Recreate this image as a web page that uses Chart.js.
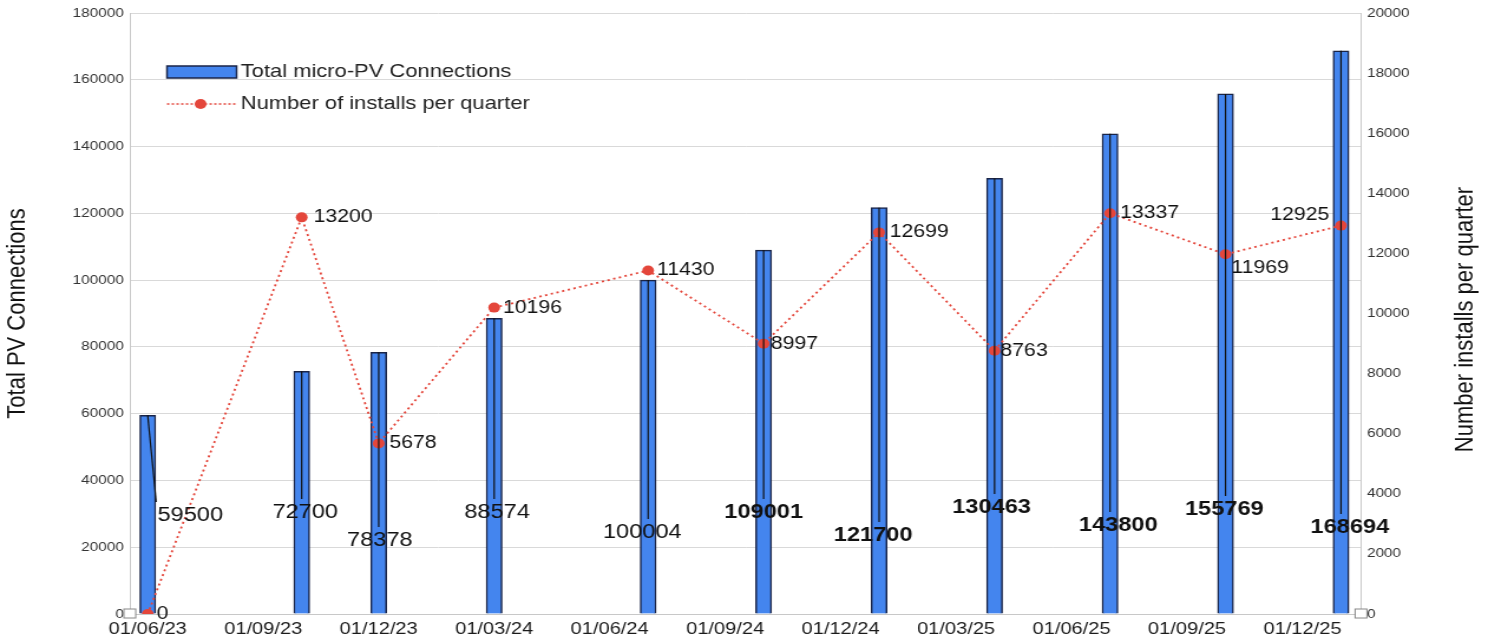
<!DOCTYPE html>
<html>
<head>
<meta charset="utf-8">
<script src="https://cdn.jsdelivr.net/npm/chart.js@4.4.1/dist/chart.umd.min.js"></script>
<style>
  html, body { margin: 0; padding: 0; background: #fff; overflow: hidden; }
  /* text in this chart is drawn slightly wide, so the canvas is stretched sideways */
  #wrap { width: 1264px; height: 639px; transform: scaleX(1.18); transform-origin: 0 0; }
</style>
</head>
<body>
<div id="wrap"><canvas id="grafico" width="1264" height="639"></canvas></div>
<script>
// connection dates (dd/mm/yy)
var datas = ['01/06/23', '01/10/23', '01/12/23', '01/03/24', '01/07/24', '01/10/24',
             '01/01/25', '01/04/25', '01/07/25', '01/10/25', '01/01/26'];

// total micro-PV connections
var totalConexoes = [59500, 72700, 78378, 88574, 100004, 109001, 121700, 130463, 143800, 155769, 168694];

// installs in the quarter
var instalacoes = [0, 13200, 5678, 10196, 11430, 8997, 12699, 8763, 13337, 11969, 12925];

// x axis labels
var rotulosX = ['01/06/23', '01/09/23', '01/12/23', '01/03/24', '01/06/24', '01/09/24',
                '01/12/24', '01/03/25', '01/06/25', '01/09/25', '01/12/25'];

var serieBarras = 'Total micro-PV Connections';
var serieLinha = 'Number of installs per quarter';
var tituloDireita = 'Number installs per quarter';

// months since June 2023
function mesIndex(d) {
    var p = d.split('/');
    return (parseInt(p[2], 10) - 23) * 12 + (parseInt(p[1], 10) - 6);
}

var pontosBarras = datas.map(function(d, i) { return { x: mesIndex(d), y: totalConexoes[i] }; });
var pontosLinha = datas.map(function(d, i) { return { x: mesIndex(d), y: instalacoes[i] }; });

var fonte = '"Liberation Sans", Arial, sans-serif';
var azul = '#4485ee';
var azulBorda = '#1a2548';
var vermelho = '#e4463b';

// where the bar value labels sit: [dx, height above axis, bold]
var posBarras = [[36, 99, 0], [3, 102, 0], [1, 74, 0], [2.5, 102, 0], [-5, 82, 0], [0, 102, 1],
                 [-5, 79, 1], [-2.5, 107, 1], [7, 89, 1], [-1, 105, 1], [7.5, 87, 1]];
// line value labels: [dx, dy, align]
var posLinha = [[7.5, 0, 'left'], [10, 0, 'left'], [9, 0, 'left'], [7.5, 0, 'left'], [7.5, 0, 'left'],
                [6, 0, 'left'], [9, 0, 'left'], [5, 0, 'left'], [8.5, 0, 'left'], [5, 14, 'left'], [-10, -11, 'right']];

var rotulos = {
    id: 'rotulos',
    afterDatasetsDraw: function(chart) {
        var ctx = chart.ctx;
        var base = chart.scales.y.getPixelForValue(0);
        var metaBar = chart.getDatasetMeta(1);
        var metaLin = chart.getDatasetMeta(0);
        ctx.save();

        // bar values with leader lines
        metaBar.data.forEach(function(bar, i) {
            var p = posBarras[i];
            var texto = String(totalConexoes[i]);
            ctx.font = (p[2] ? 'bold ' : '') + '20px ' + fonte;
            var w = ctx.measureText(texto).width;
            var cx = bar.x + p[0];
            var cy = base - p[1];
            var fimX = Math.abs(p[0]) > 10 ? cx - w / 2 - 1 : bar.x;
            ctx.strokeStyle = '#111';
            ctx.lineWidth = 1.2;
            ctx.beginPath();
            ctx.moveTo(bar.x, bar.y);
            ctx.lineTo(fimX, cy - 13);
            ctx.stroke();
            ctx.fillStyle = '#111';
            ctx.textAlign = 'center';
            ctx.textBaseline = 'middle';
            ctx.fillText(texto, cx, cy);
        });

        // installs per quarter values
        ctx.font = '18px ' + fonte;
        ctx.textBaseline = 'middle';
        metaLin.data.forEach(function(pt, i) {
            var p = posLinha[i];
            ctx.textAlign = p[2];
            ctx.fillStyle = '#111';
            ctx.fillText(String(instalacoes[i]), pt.x + p[0], pt.y + p[1]);
        });

        // little markers at the foot of both y axes
        var area = chart.chartArea;
        ctx.fillStyle = '#fff';
        ctx.strokeStyle = '#888';
        ctx.lineWidth = 1;
        [area.left, area.right].forEach(function(x) {
            ctx.fillRect(x - 5, base - 5, 10, 9);
            ctx.strokeRect(x - 5, base - 5, 10, 9);
        });
        ctx.restore();
    },
    afterDraw: function(chart) {
        var ctx = chart.ctx;
        var area = chart.chartArea;
        ctx.save();

        // right axis title, reading upwards
        ctx.fillStyle = '#111';
        ctx.font = '22px ' + fonte;
        ctx.textAlign = 'center';
        ctx.textBaseline = 'middle';
        ctx.translate(1241.5, (area.top + area.bottom) / 2 + 6);
        ctx.rotate(-Math.PI / 2);
        ctx.fillText(tituloDireita, 0, 0);
        ctx.setTransform(1, 0, 0, 1, 0, 0);

        // legend inside the plot
        ctx.fillStyle = azul;
        ctx.strokeStyle = azulBorda;
        ctx.lineWidth = 1.5;
        ctx.fillRect(141.5, 66, 59, 12);
        ctx.strokeRect(141.5, 66, 59, 12);

        ctx.strokeStyle = vermelho;
        ctx.lineWidth = 1.5;
        ctx.setLineDash([2, 2]);
        ctx.beginPath();
        ctx.moveTo(141.5, 104);
        ctx.lineTo(200.5, 104);
        ctx.stroke();
        ctx.setLineDash([]);
        ctx.fillStyle = vermelho;
        ctx.beginPath();
        ctx.arc(170, 104, 5, 0, Math.PI * 2);
        ctx.fill();

        ctx.fillStyle = '#222';
        ctx.font = '18.6px ' + fonte;
        ctx.textAlign = 'left';
        ctx.textBaseline = 'middle';
        ctx.fillText(serieBarras, 204, 72);
        ctx.fillText(serieLinha, 204, 104);
        ctx.restore();
    }
};

function semSeparador(v) { return String(v); }

new Chart('grafico', {
    data: {
        datasets: [
            {
                type: 'line',
                label: serieLinha,
                data: pontosLinha,
                yAxisID: 'y1',
                borderColor: vermelho,
                borderWidth: 1.8,
                borderDash: [2, 3],
                pointRadius: 5,
                pointBackgroundColor: vermelho,
                pointBorderWidth: 0,
                tension: 0,
                order: 0
            },
            {
                type: 'bar',
                label: serieBarras,
                data: pontosBarras,
                yAxisID: 'y',
                backgroundColor: azul,
                borderColor: azulBorda,
                borderWidth: 1.5,
                barThickness: 13.5,
                order: 1
            }
        ]
    },
    options: {
        responsive: false,
        animation: false,
        devicePixelRatio: 1,
        layout: { padding: { top: 13 } },
        plugins: { legend: { display: false }, tooltip: { enabled: false } },
        scales: {
            x: {
                type: 'linear',
                offset: false,
                min: -0.466,
                max: 31.52,
                grid: { display: false, drawTicks: false },
                border: { display: true, color: '#c8c8c8' },
                afterBuildTicks: function(scale) {
                    scale.ticks = rotulosX.map(function(r) { return { value: mesIndex(r) }; });
                },
                afterFit: function(scale) { scale.height = 25; },
                ticks: {
                    autoSkip: false,
                    maxRotation: 0,
                    padding: 5,
                    color: '#1a1a1a',
                    font: { family: fonte, size: 17 },
                    callback: function(v) {
                        for (var i = 0; i < rotulosX.length; i++) {
                            if (mesIndex(rotulosX[i]) === v) return rotulosX[i];
                        }
                        return '';
                    }
                }
            },
            y: {
                position: 'left',
                min: 0,
                max: 180000,
                afterFit: function(scale) { scale.width = 110; },
                ticks: { stepSize: 20000, padding: 5, color: '#333', font: { family: fonte, size: 13 }, callback: semSeparador },
                grid: { color: '#d9d9d9', drawTicks: false },
                border: { color: '#c8c8c8' },
                title: {
                    display: true,
                    text: 'Total PV Connections',
                    color: '#111',
                    font: { family: fonte, size: 22 },
                    padding: { top: 2, bottom: 0 }
                }
            },
            y1: {
                position: 'right',
                min: 0,
                max: 20000,
                afterFit: function(scale) { scale.width = 110.6; },
                ticks: { stepSize: 2000, padding: 5, color: '#333', font: { family: fonte, size: 13 }, callback: semSeparador },
                grid: { display: false, drawTicks: false },
                border: { color: '#c8c8c8' }
            }
        }
    },
    plugins: [rotulos]
});
</script>
</body>
</html>
